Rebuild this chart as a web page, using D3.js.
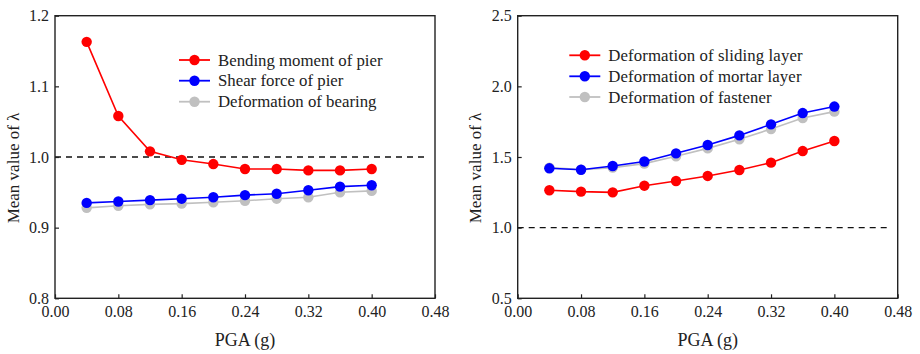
<!DOCTYPE html>
<html>
<head>
<meta charset="utf-8">
<script src="https://cdn.jsdelivr.net/npm/d3@7"></script>
<style>
html,body{margin:0;padding:0;background:#fff;}
svg{display:block;}
</style>
</head>
<body>
<svg id="chart" width="920" height="354" font-family="Liberation Serif"></svg>
<script>
const pga = [0.04,0.08,0.12,0.16,0.20,0.24,0.28,0.32,0.36,0.40];
const xTicks = [0.00,0.08,0.16,0.24,0.32,0.40,0.48];

// Left panel
const bendingMoment = [1.163,1.058,1.008,0.996,0.990,0.983,0.983,0.981,0.981,0.983];
const shearForce    = [0.935,0.937,0.939,0.941,0.943,0.946,0.948,0.953,0.958,0.960];
const bearingDef    = [0.928,0.931,0.933,0.934,0.936,0.938,0.941,0.943,0.950,0.952];
const leftYTicks = [0.8,0.9,1.0,1.1,1.2];
const leftNames = ["Bending moment of pier","Shear force of pier","Deformation of bearing"];

// Right panel
const slidingDef = [1.265,1.255,1.250,1.297,1.330,1.366,1.408,1.460,1.542,1.613];
const mortarDef  = [1.420,1.410,1.436,1.468,1.526,1.585,1.653,1.731,1.811,1.857];
const fastenerDef= [1.425,1.411,1.425,1.453,1.505,1.561,1.625,1.698,1.776,1.821];
const rightYTicks = [0.5,1.0,1.5,2.0,2.5];
const rightNames = ["Deformation of sliding layer","Deformation of mortar layer","Deformation of fastener"];

const colors = ["#ff0000","#0000ff","#c0c0c0"];
const FONT = "Liberation Serif";
const svg = d3.select("#chart");

function panel(cfg){
  const g = svg.append("g");
  const x = d3.scaleLinear().domain([0,0.48]).range([cfg.x0,cfg.x1]);
  const y = d3.scaleLinear().domain(cfg.yDomain).range([298.3,15.7]);

  g.append("line").attr("x1",x(0)).attr("x2",cfg.dashEnd)
    .attr("y1",y(1.0)).attr("y2",y(1.0))
    .attr("stroke","#111").attr("stroke-width",1.4).attr("stroke-dasharray","6,5");

  const order = [2,1,0];
  order.forEach(i=>{
    const vals = cfg.series[i];
    const line = d3.line().x((d,j)=>x(pga[j])).y(d=>y(d));
    g.append("path").datum(vals).attr("d",line).attr("fill","none")
      .attr("stroke",colors[i]).attr("stroke-width",1.6);
    g.selectAll(null).data(vals).enter().append("circle")
      .attr("cx",(d,j)=>x(pga[j])).attr("cy",d=>y(d)).attr("r",5.2)
      .attr("fill",colors[i]);
  });

  const xAxis = d3.axisBottom(x).tickValues(xTicks).tickSize(-4).tickPadding(7)
    .tickFormat(d3.format(".2f"));
  const gx = g.append("g").attr("transform",`translate(0,${y.range()[0]})`).call(xAxis);
  const yAxis = d3.axisLeft(y).tickValues(cfg.yTicks).tickSize(-4).tickPadding(6)
    .tickFormat(d3.format(".1f"));
  const gy = g.append("g").attr("transform",`translate(${cfg.x0},0)`).call(yAxis);
  [gx,gy].forEach(a=>{
    a.attr("font-family",FONT).attr("font-size",16);
    a.select(".domain").remove();
    a.selectAll(".tick line").attr("stroke","#222").attr("stroke-width",1.2);
    a.selectAll(".tick text").attr("fill","#222");
  });
  g.append("rect").attr("x",cfg.x0).attr("y",15.7).attr("width",cfg.x1-cfg.x0)
    .attr("height",298.3-15.7).attr("fill","none").attr("stroke","#222").attr("stroke-width",1.4);

  g.append("text").attr("x",(cfg.x0+cfg.x1)/2).attr("y",346).attr("text-anchor","middle")
    .attr("font-family",FONT).attr("font-size",18).attr("fill","#222").text("PGA (g)");
  g.append("text").attr("transform",`translate(${cfg.yLabX},168) rotate(-90)`)
    .attr("text-anchor","middle").attr("font-family",FONT).attr("font-size",17)
    .attr("fill","#222").text(cfg.yLabel);

  cfg.names.forEach((n,i)=>{
    const ly = cfg.legY[i];
    g.append("line").attr("x1",cfg.legX).attr("x2",cfg.legX+31).attr("y1",ly).attr("y2",ly)
      .attr("stroke",colors[i]).attr("stroke-width",1.8);
    g.append("circle").attr("cx",cfg.legX+15.5).attr("cy",ly).attr("r",5.2).attr("fill",colors[i]);
    g.append("text").attr("x",cfg.legX+39).attr("y",ly+5.5).attr("font-family",FONT)
      .attr("font-size",cfg.legFont).attr("letter-spacing",cfg.legSpacing)
      .attr("fill","#222").text(n);
  });
}

panel({x0:55,x1:435,yDomain:[0.8,1.2],yTicks:leftYTicks,dashEnd:426,
  series:[bendingMoment,shearForce,bearingDef],names:leftNames,
  legX:179,legY:[60,80.7,101.7],yLabX:19,yLabel:"Mean value of λ",legFont:16.8,legSpacing:0});
panel({x0:517.7,x1:897.7,yDomain:[0.5,2.5],yTicks:rightYTicks,dashEnd:889,
  series:[slidingDef,mortarDef,fastenerDef],names:rightNames,
  legX:569.3,legY:[55.3,76.3,97],yLabX:481,yLabel:"Mean value of  λ",legFont:16.8,legSpacing:0.1});
</script>
</body>
</html>
